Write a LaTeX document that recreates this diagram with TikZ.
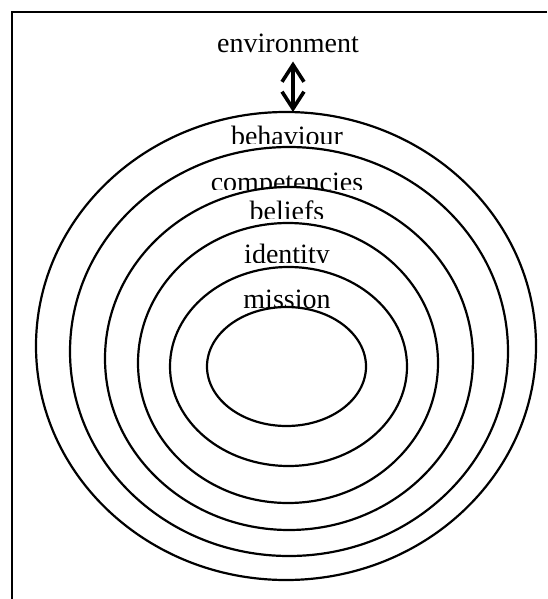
\documentclass[tikz,border=0pt]{standalone}
\usepackage{fontspec}
\setmainfont{Liberation Serif}
\usetikzlibrary{arrows.meta}

\begin{document}
\begin{tikzpicture}[x=0.5pt, y=-0.5pt,
    ring/.style={draw, fill=white, line width=1.1pt},
    layer/.style={anchor=base, inner sep=0pt, font=\fontsize{14}{16}\selectfont},
    dblarrow/.style={{Straight Barb[length=8.5pt,width=11pt]}-{Straight Barb[length=8.5pt,width=11pt]}, line width=1.8pt}]
    \useasboundingbox (0,0) rectangle (547,599);

    % frame, only its top and left edges are in view
    \draw[line width=1.1pt] (547,12) -- (12,12) -- (12,599);

    \node[layer] (environment) at (288,52.5) {environment};

    % rings from outside in; each label is cut off just above its base line
    \foreach \cx/\cy/\rx/\ry/\name/\by/\cut in {
        286/346/250/234/behaviour/145.5/143,
        289/351.5/219/204.5/competencies/191.5/189,
        289/358.5/184/171.5/beliefs/220.5/218,
        288/363/150/140/identity/263.5/262.7,
        288.5/366.5/118.5/99.5/mission/308.5/308}
    {
        \draw[ring] (\cx,\cy) ellipse [x radius=\rx, y radius=\ry];
        \begin{scope}
            \clip (167,\by-40) rectangle (407,\cut);
            \node[layer] (\name) at (287,\by) {\name};
        \end{scope}
    }
    % core
    \draw[ring] (286.5,366.5) ellipse [x radius=79.5, y radius=59.5];

    % link to the environment
    \coordinate (outertop) at (293,112);
    \draw[dblarrow] ([xshift=2.5pt,yshift=-4.5pt]environment.base) -- (outertop);
\end{tikzpicture}
\end{document}
